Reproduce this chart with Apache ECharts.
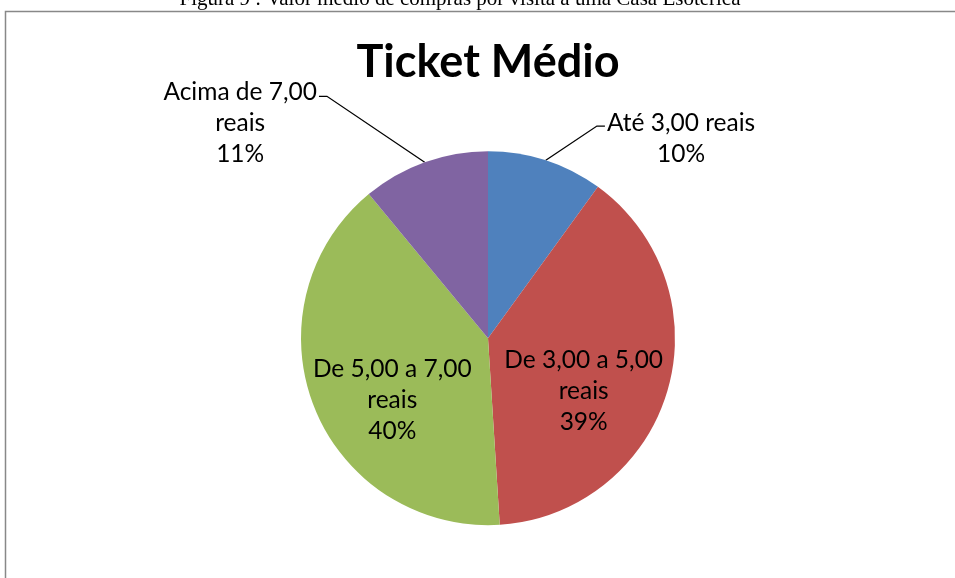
<!DOCTYPE html>
<html>
<head>
<meta charset="utf-8">
<script src="https://cdn.jsdelivr.net/npm/echarts@6/dist/echarts.min.js"></script>
<style>
html,body{margin:0;padding:0;background:#fff;}
#chart{width:955px;height:578px;}
</style>
</head>
<body>
<div id="chart"></div>
<script>
// ---- data ----
const categories = ['Até 3,00 reais', 'De 3,00 a 5,00 reais', 'De 5,00 a 7,00 reais', 'Acima de 7,00 reais'];
const labelText = ['Até 3,00 reais', 'De 3,00 a 5,00\nreais', 'De 5,00 a 7,00\nreais', 'Acima de 7,00\nreais'];
const values = [10, 39, 40, 11];
const colors = ['#4F81BD', '#C0504D', '#9BBB59', '#8064A2'];
const titleText = 'Ticket Médio';
const captionText = 'Figura 9 : Valor médio de compras por visita a uma Casa Esotérica';

const FONT = 'Lato, "Open Sans", sans-serif';
const FS = 24.5;

const labelPos = ['outside', 'inside', 'inside', 'outside'];
const lineLen = [36, 0, 0, 70];
const lineLen2 = [48, 0, 0, 82];
const shift = [[0, 13], [3, 26], [-6, 26], [0, 27]];

const chart = echarts.init(document.getElementById('chart'), null, {renderer: 'canvas'});

const data = categories.map((c, i) => ({
  name: c,
  value: values[i],
  itemStyle: {color: colors[i]},
  label: {position: labelPos[i]},
  labelLine: {show: labelPos[i] === 'outside', length: lineLen[i], length2: lineLen2[i]}
}));

chart.setOption({
  animation: false,
  backgroundColor: '#fff',
  graphic: [
    {type: 'rect', shape: {x: 5.5, y: 11.5, width: 1000, height: 700}, style: {fill: 'none', stroke: '#888', lineWidth: 1.5}, silent: true},
    {type: 'text', x: 460, y: 10, style: {text: captionText, fontFamily: '"Liberation Serif", "Times New Roman", serif', fontSize: 21, fill: '#000', textAlign: 'center', textVerticalAlign: 'bottom'}, silent: true},
    {type: 'text', x: 488, y: 62, style: {text: titleText, fontFamily: FONT, fontSize: 45, fontWeight: 'bold', fill: '#000', textAlign: 'center', textVerticalAlign: 'middle'}, silent: true}
  ],
  series: [{
    type: 'pie',
    center: ['51.1%', '58.5%'],
    radius: 187,
    startAngle: 90,
    clockwise: true,
    avoidLabelOverlap: false,
    itemStyle: {borderWidth: 0},
    emphasis: {disabled: true},
    label: {
      color: '#000',
      fontFamily: FONT,
      fontSize: FS,
      lineHeight: 31,
      textBorderWidth: 0,
      distanceToLabelLine: 2,
      formatter: function (p) {
        const lines = labelText[p.dataIndex].split('\n');
        lines.push(Math.round(p.percent) + '%');
        return lines.map(l => '{a|' + l + '}').join('\n');
      },
      rich: {
        a: {align: 'center', color: '#000', fontFamily: FONT, fontSize: FS, lineHeight: 31}
      }
    },
    labelLine: {smooth: false, lineStyle: {color: '#000', width: 1.3}},
    labelLayout: function (params) {
      const s = shift[params.dataIndex];
      const out = {dx: s[0], dy: s[1]};
      const pts = params.labelLinePoints;
      if (pts && pts.length === 3 && labelPos[params.dataIndex] === 'outside') {
        const p0 = pts[0], p2 = pts[2];
        const dir = p2[0] > p0[0] ? 1 : -1;
        out.labelLinePoints = [[p0[0], p0[1]], [p2[0] - dir * 8, p2[1]], [p2[0], p2[1]]];
      }
      return out;
    },
    data: data
  }]
});
</script>
</body>
</html>
